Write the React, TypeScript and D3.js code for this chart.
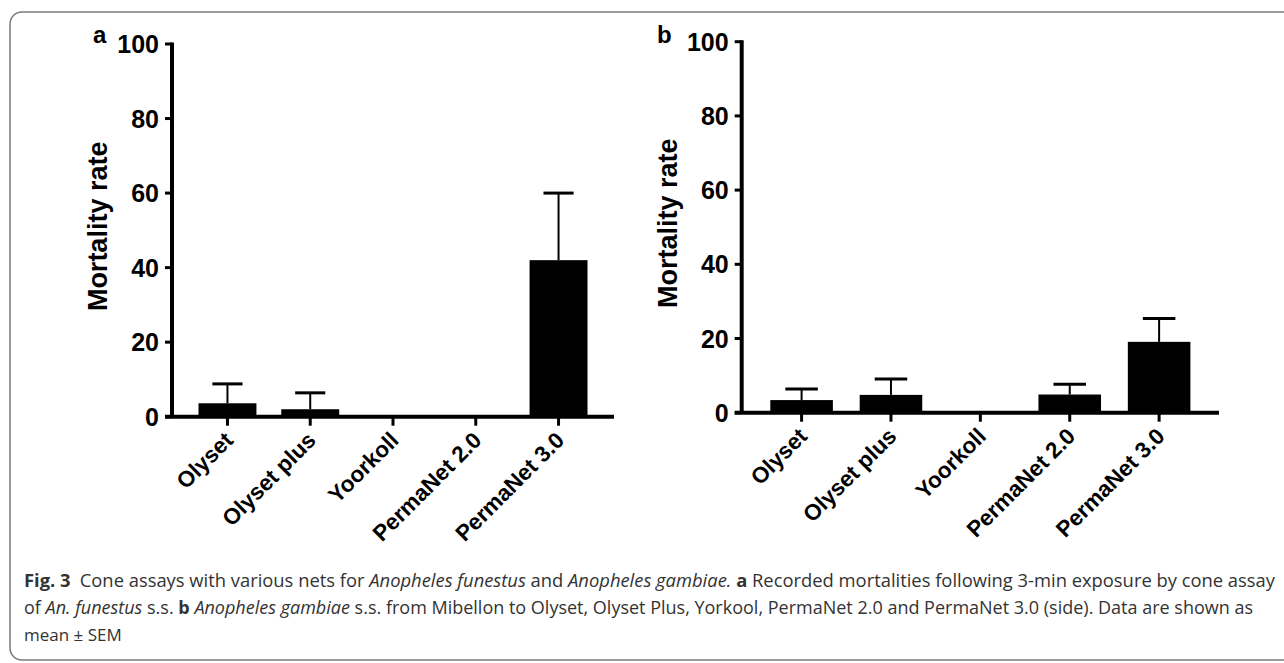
import React from 'react';
import * as d3 from 'd3';

// categories shared by both panels
const nets = ['Olyset', 'Olyset plus', 'Yoorkoll', 'PermaNet 2.0', 'PermaNet 3.0'];

// panel a: An. funestus, mean and SEM
const funestusMean = [3.6, 2.0, 0, 0, 42.0];
const funestusSem = [5.2, 4.4, 0, 0, 18.0];

// panel b: An. gambiae, mean and SEM
const gambiaeMean = [3.4, 4.8, 0, 4.9, 19.1];
const gambiaeSem = [3.0, 4.3, 0, 2.8, 6.3];

const yTicks = [0, 20, 40, 60, 80, 100];

const chartFont = '"Liberation Sans", Arial, Helvetica, sans-serif';
const captionFont = '"Open Sans", "Noto Sans", sans-serif';

interface PanelProps {
  letter: string;
  letterX: number;
  means: number[];
  sems: number[];
  x0: number;
  x1: number;
  yBottom: number;
  yTop: number;
}

const Panel: React.FC<PanelProps> = ({ letter, letterX, means, sems, x0, x1, yBottom, yTop }) => {
  const x = d3.scaleBand<string>()
    .domain(nets)
    .range([x0, x1])
    .paddingInner(0.3)
    .paddingOuter(0.32);

  const y = d3.scaleLinear()
    .domain([0, 100])
    .range([yBottom, yTop]);

  const bw = x.bandwidth();
  const capW = bw * 0.52;
  const midY = (y(0) + y(100)) / 2;

  return (
    <g fontFamily={chartFont} fontWeight="bold" fill="#000">
      {/* bars */}
      {nets.map((n, i) => (
        <rect
          key={'bar' + n}
          x={x(n)!}
          y={y(means[i])}
          width={bw}
          height={y(0) - y(means[i])}
          fill="#000"
        />
      ))}

      {/* upper error bars */}
      {nets.map((n, i) => {
        if (sems[i] <= 0) return null;
        const cx = x(n)! + bw / 2;
        const top = y(means[i] + sems[i]);
        return (
          <g key={'err' + n}>
            <line x1={cx} x2={cx} y1={y(means[i])} y2={top} stroke="#000" strokeWidth={2} />
            <line x1={cx - capW / 2} x2={cx + capW / 2} y1={top} y2={top} stroke="#000" strokeWidth={3} />
          </g>
        );
      })}

      {/* y axis */}
      <line x1={x0} x2={x0} y1={y(100) - 1.5} y2={y(0)} stroke="#000" strokeWidth={4} />
      {yTicks.map(t => (
        <g key={'yt' + t}>
          <line x1={x0 - 7} x2={x0} y1={y(t)} y2={y(t)} stroke="#000" strokeWidth={3} />
          <text
            x={x0 - 13}
            y={y(t)}
            dy="0.36em"
            textAnchor="end"
            fontSize={25}
          >
            {t}
          </text>
        </g>
      ))}

      {/* x axis */}
      <line x1={x0 - 7} x2={x1} y1={y(0)} y2={y(0)} stroke="#000" strokeWidth={4} />
      {nets.map(n => {
        const cx = x(n)! + bw / 2;
        return (
          <g key={'xt' + n}>
            <line x1={cx} x2={cx} y1={y(0)} y2={y(0) + 9} stroke="#000" strokeWidth={3} />
            <text
              transform={`translate(${cx + 7},${y(0) + 25}) rotate(-45)`}
              textAnchor="end"
              fontSize={22.5}
            >
              {n}
            </text>
          </g>
        );
      })}

      {/* axis title */}
      <text
        transform={`translate(${x0 - 65},${midY - 4}) rotate(-90)`}
        textAnchor="middle"
        fontSize={27}
      >
        Mortality rate
      </text>

      {/* panel letter */}
      <text x={letterX} y={43} fontSize={24}>{letter}</text>
    </g>
  );
};

export default function App() {
  return (
    <div style={{ position: 'absolute', left: 0, top: 0 }}>
      <svg width={1284} height={663} style={{ display: 'block', background: '#fff' }}>
        <rect x={10} y={12} width={1300} height={648} rx={12} ry={12} fill="none" stroke="#7a7a7a" strokeWidth={1.5} />

        <Panel letter="a" letterX={93} means={funestusMean} sems={funestusSem} x0={172} x1={614} yBottom={416.7} yTop={44} />
        <Panel letter="b" letterX={657} means={gambiaeMean} sems={gambiaeSem} x0={741.7} x1={1219} yBottom={412.7} yTop={41.7} />

        <g fontFamily={captionFont} fontSize={18} fill="#333">
          <text x={24} y={587} textLength={1251} lengthAdjust="spacingAndGlyphs">
            <tspan fontWeight="bold">Fig. 3</tspan>
            <tspan>{'\u2002'}Cone assays with various nets for </tspan>
            <tspan fontStyle="italic">Anopheles funestus</tspan>
            <tspan> and </tspan>
            <tspan fontStyle="italic">Anopheles gambiae.</tspan>
            <tspan> </tspan>
            <tspan fontWeight="bold">a</tspan>
            <tspan> Recorded mortalities following 3-min exposure by cone assay</tspan>
          </text>
          <text x={24} y={614} textLength={1229} lengthAdjust="spacingAndGlyphs">
            <tspan>of </tspan>
            <tspan fontStyle="italic">An. funestus</tspan>
            <tspan> s.s. </tspan>
            <tspan fontWeight="bold">b</tspan>
            <tspan> </tspan>
            <tspan fontStyle="italic">Anopheles gambiae</tspan>
            <tspan> s.s. from Mibellon to Olyset, Olyset Plus, Yorkool, PermaNet 2.0 and PermaNet 3.0 (side). Data are shown as</tspan>
          </text>
          <text x={24} y={641} fontSize={17}>mean ± SEM</text>
        </g>
      </svg>
    </div>
  );
}
